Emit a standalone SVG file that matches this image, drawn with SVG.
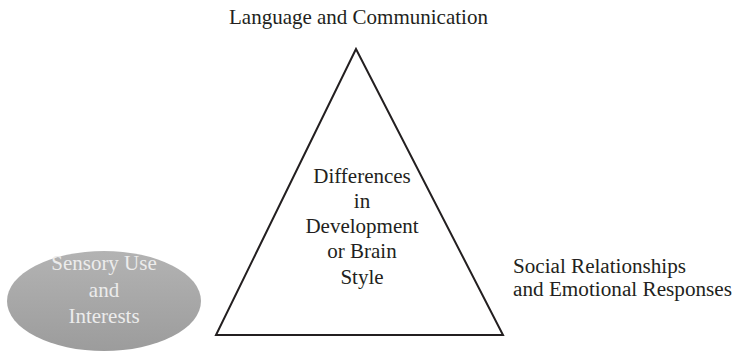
<svg xmlns="http://www.w3.org/2000/svg" width="734" height="353" viewBox="0 0 734 353">
  <style>
    .lbl { font-family: "Liberation Serif", "Times New Roman", serif; font-size: 21px; fill: #231f20; }
    .mid { text-anchor: middle; }
    .light { fill: #ececec; }
    .side { font-size: 20px; }
  </style>
  <defs>
    <linearGradient id="greyFill" x1="0" y1="0" x2="0" y2="1">
      <stop offset="0" stop-color="#b3b3b3"/>
      <stop offset="1" stop-color="#9c9c9c"/>
    </linearGradient>
  </defs>
  <rect width="734" height="353" fill="#ffffff"/>

  <g id="core">
    <polygon points="356,49 216,335 503,335" fill="#ffffff" stroke="#231f20" stroke-width="2" stroke-linejoin="miter"/>
    <text class="lbl mid" x="362" y="183">Differences</text>
    <text class="lbl mid" x="362" y="208">in</text>
    <text class="lbl mid" x="362" y="233">Development</text>
    <text class="lbl mid" x="362" y="258">or Brain</text>
    <text class="lbl mid" x="362" y="284">Style</text>
  </g>

  <g id="language">
    <text class="lbl" x="229" y="24">Language and Communication</text>
  </g>

  <g id="social">
    <text class="lbl side" x="513" y="273" textLength="173" lengthAdjust="spacingAndGlyphs">Social Relationships</text>
    <text class="lbl side" x="513" y="296" textLength="219" lengthAdjust="spacingAndGlyphs">and Emotional Responses</text>
  </g>

  <g id="sensory">
    <ellipse cx="104" cy="301" rx="97" ry="50" fill="url(#greyFill)"/>
    <text class="lbl mid light" x="104" y="270">Sensory Use</text>
    <text class="lbl mid light" x="104" y="297">and</text>
    <text class="lbl mid light" x="104" y="323">Interests</text>
  </g>

  <g id="connectors"></g>
</svg>
